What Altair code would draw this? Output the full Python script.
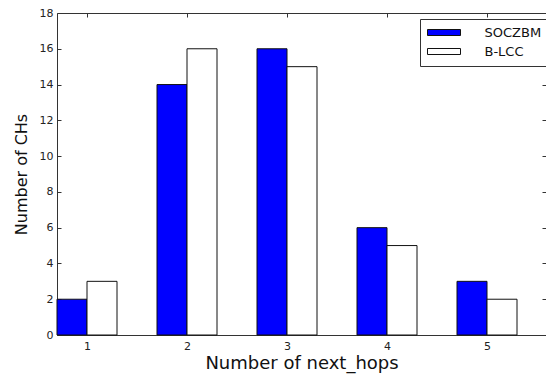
import altair as alt
import pandas as pd

hops = [1, 2, 3, 4, 5]
socz = [2, 14, 16, 6, 3]
blcc = [3, 16, 15, 5, 2]
series = ["SOCZBM", "B-LCC"]
yticks = [0, 2, 4, 6, 8, 10, 12, 14, 16, 18]

rows = []
for h, a, b in zip(hops, socz, blcc):
    rows.append({"hop": h, "series": series[0], "value": a, "side": -1})
    rows.append({"hop": h, "series": series[1], "value": b, "side": 0})
df = pd.DataFrame(rows)

W, H = 489, 322
FONT = "DejaVu Sans"
LINE = "#333"
xscale = alt.Scale(domain=[0.7, 5.59], nice=False, zero=False, padding=0)
yscale = alt.Scale(domain=[0, 18], nice=False, padding=0)

base = alt.Chart(df).transform_calculate(
    x0="datum.hop + datum.side * 0.3",
    x1="datum.hop + datum.side * 0.3 + 0.3",
)

bars = base.mark_bar(stroke="#111", strokeWidth=1).encode(
    x=alt.X("x0:Q", scale=xscale, axis=alt.Axis(
        orient="bottom", values=hops, format="d", ticks=False,
        domain=True, domainColor=LINE, domainWidth=1,
        grid=False, labelPadding=5, labelFontSize=11, labelColor="#222",
        labelFont=FONT, title="Number of next_hops", titleFont=FONT,
        titleFontSize=18, titleFontWeight="normal", titleColor="#111",
        titlePadding=3)),
    x2="x1:Q",
    y=alt.Y("value:Q", scale=yscale, axis=alt.Axis(
        orient="left", values=yticks, ticks=False,
        domain=True, domainColor=LINE, domainWidth=1, grid=False,
        labelPadding=4, labelFontSize=11, labelColor="#222", labelFont=FONT,
        title="Number of CHs", titleFont=FONT, titleFontSize=16,
        titleFontWeight="normal", titleColor="#111", titlePadding=10)),
    y2=alt.datum(0),
    fill=alt.Fill("series:N", scale=alt.Scale(domain=series, range=["#0000ff", "#ffffff"]),
                  legend=alt.Legend(
                      title=None, orient="none", legendX=363, legendY=6,
                      symbolType="M-2.75,-0.5H2.75V0.5H-2.75Z", symbolSize=144,
                      symbolOffset=10.5,
                      symbolStrokeColor="#111", symbolStrokeWidth=1,
                      labelFont=FONT, labelFontSize=13, labelColor="#111",
                      labelOffset=34, rowPadding=5, padding=7,
                      strokeColor=LINE, fillColor="white", cornerRadius=0)),
)

tick_common = dict(labels=False, grid=False, title=None,
                   tickSize=4, tickColor=LINE, tickWidth=1)

ticks_a = base.mark_bar(opacity=0).encode(
    x=alt.X("x0:Q", scale=xscale, axis=alt.Axis(orient="top", offset=-H, values=hops,
                                                 domain=False, **tick_common)),
    x2="x1:Q",
    y=alt.Y("value:Q", scale=yscale, axis=alt.Axis(orient="right", offset=-W, values=yticks,
                                                   domain=False, **tick_common)),
    y2=alt.datum(0),
)
ticks_b = base.mark_bar(opacity=0).encode(
    x=alt.X("x0:Q", scale=xscale, axis=alt.Axis(orient="bottom", offset=-H, values=hops,
                                                 domain=True, domainColor=LINE, domainWidth=1,
                                                 **tick_common)),
    x2="x1:Q",
    y=alt.Y("value:Q", scale=yscale, axis=alt.Axis(orient="left", offset=-W, values=yticks,
                                                   domain=False, **tick_common)),
    y2=alt.datum(0),
)

chart = alt.layer(bars, ticks_a, ticks_b).resolve_axis(
    x="independent", y="independent"
).properties(
    width=W, height=H,
    autosize=alt.AutoSizeParams(type="none"),
    padding={"left": 49, "top": 5, "right": 0, "bottom": 40},
    background="white",
).configure_view(strokeWidth=0)

chart.save("out.html", embed_options={"renderer": "svg", "actions": False})
